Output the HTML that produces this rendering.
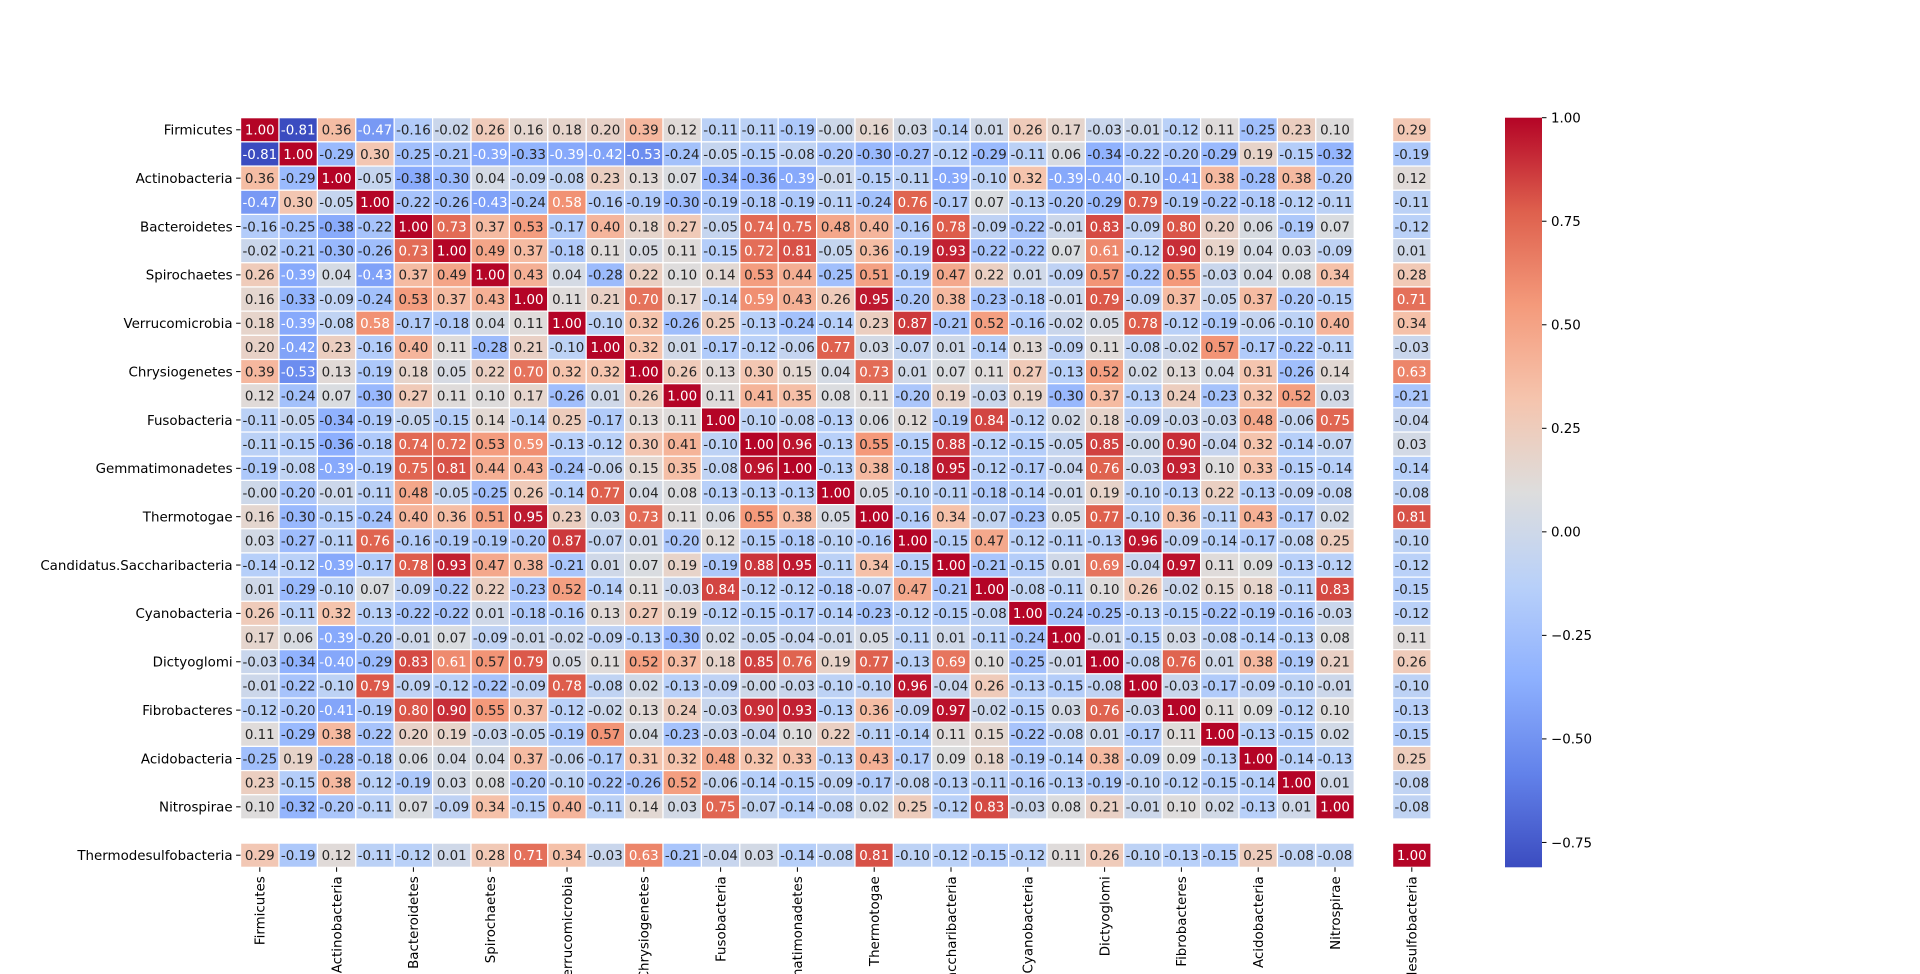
<!DOCTYPE html>
<html><head><meta charset="utf-8"><style>
html,body{margin:0;padding:0;background:#fff;width:1920px;height:974px;overflow:hidden;}
svg{display:block;}
svg text{font-family:"DejaVu Sans","Liberation Sans",sans-serif;}
</style></head><body>
<svg id="chart" width="1920" height="974" xmlns="http://www.w3.org/2000/svg"></svg>
<script>
const labels=["Firmicutes","","Actinobacteria","","Bacteroidetes","","Spirochaetes","","Verrucomicrobia","","Chrysiogenetes","","Fusobacteria","","Gemmatimonadetes","","Thermotogae","","Candidatus.Saccharibacteria","","Cyanobacteria","","Dictyoglomi","","Fibrobacteres","","Acidobacteria","","Nitrospirae","","Thermodesulfobacteria"];
const rows=[
[1.00,-0.81,0.36,-0.47,-0.16,-0.02,0.26,0.16,0.18,0.20,0.39,0.12,-0.11,-0.11,-0.19,-0.00,0.16,0.03,-0.14,0.01,0.26,0.17,-0.03,-0.01,-0.12,0.11,-0.25,0.23,0.10,null,0.29],
[-0.81,1.00,-0.29,0.30,-0.25,-0.21,-0.39,-0.33,-0.39,-0.42,-0.53,-0.24,-0.05,-0.15,-0.08,-0.20,-0.30,-0.27,-0.12,-0.29,-0.11,0.06,-0.34,-0.22,-0.20,-0.29,0.19,-0.15,-0.32,null,-0.19],
[0.36,-0.29,1.00,-0.05,-0.38,-0.30,0.04,-0.09,-0.08,0.23,0.13,0.07,-0.34,-0.36,-0.39,-0.01,-0.15,-0.11,-0.39,-0.10,0.32,-0.39,-0.40,-0.10,-0.41,0.38,-0.28,0.38,-0.20,null,0.12],
[-0.47,0.30,-0.05,1.00,-0.22,-0.26,-0.43,-0.24,0.58,-0.16,-0.19,-0.30,-0.19,-0.18,-0.19,-0.11,-0.24,0.76,-0.17,0.07,-0.13,-0.20,-0.29,0.79,-0.19,-0.22,-0.18,-0.12,-0.11,null,-0.11],
[-0.16,-0.25,-0.38,-0.22,1.00,0.73,0.37,0.53,-0.17,0.40,0.18,0.27,-0.05,0.74,0.75,0.48,0.40,-0.16,0.78,-0.09,-0.22,-0.01,0.83,-0.09,0.80,0.20,0.06,-0.19,0.07,null,-0.12],
[-0.02,-0.21,-0.30,-0.26,0.73,1.00,0.49,0.37,-0.18,0.11,0.05,0.11,-0.15,0.72,0.81,-0.05,0.36,-0.19,0.93,-0.22,-0.22,0.07,0.61,-0.12,0.90,0.19,0.04,0.03,-0.09,null,0.01],
[0.26,-0.39,0.04,-0.43,0.37,0.49,1.00,0.43,0.04,-0.28,0.22,0.10,0.14,0.53,0.44,-0.25,0.51,-0.19,0.47,0.22,0.01,-0.09,0.57,-0.22,0.55,-0.03,0.04,0.08,0.34,null,0.28],
[0.16,-0.33,-0.09,-0.24,0.53,0.37,0.43,1.00,0.11,0.21,0.70,0.17,-0.14,0.59,0.43,0.26,0.95,-0.20,0.38,-0.23,-0.18,-0.01,0.79,-0.09,0.37,-0.05,0.37,-0.20,-0.15,null,0.71],
[0.18,-0.39,-0.08,0.58,-0.17,-0.18,0.04,0.11,1.00,-0.10,0.32,-0.26,0.25,-0.13,-0.24,-0.14,0.23,0.87,-0.21,0.52,-0.16,-0.02,0.05,0.78,-0.12,-0.19,-0.06,-0.10,0.40,null,0.34],
[0.20,-0.42,0.23,-0.16,0.40,0.11,-0.28,0.21,-0.10,1.00,0.32,0.01,-0.17,-0.12,-0.06,0.77,0.03,-0.07,0.01,-0.14,0.13,-0.09,0.11,-0.08,-0.02,0.57,-0.17,-0.22,-0.11,null,-0.03],
[0.39,-0.53,0.13,-0.19,0.18,0.05,0.22,0.70,0.32,0.32,1.00,0.26,0.13,0.30,0.15,0.04,0.73,0.01,0.07,0.11,0.27,-0.13,0.52,0.02,0.13,0.04,0.31,-0.26,0.14,null,0.63],
[0.12,-0.24,0.07,-0.30,0.27,0.11,0.10,0.17,-0.26,0.01,0.26,1.00,0.11,0.41,0.35,0.08,0.11,-0.20,0.19,-0.03,0.19,-0.30,0.37,-0.13,0.24,-0.23,0.32,0.52,0.03,null,-0.21],
[-0.11,-0.05,-0.34,-0.19,-0.05,-0.15,0.14,-0.14,0.25,-0.17,0.13,0.11,1.00,-0.10,-0.08,-0.13,0.06,0.12,-0.19,0.84,-0.12,0.02,0.18,-0.09,-0.03,-0.03,0.48,-0.06,0.75,null,-0.04],
[-0.11,-0.15,-0.36,-0.18,0.74,0.72,0.53,0.59,-0.13,-0.12,0.30,0.41,-0.10,1.00,0.96,-0.13,0.55,-0.15,0.88,-0.12,-0.15,-0.05,0.85,-0.00,0.90,-0.04,0.32,-0.14,-0.07,null,0.03],
[-0.19,-0.08,-0.39,-0.19,0.75,0.81,0.44,0.43,-0.24,-0.06,0.15,0.35,-0.08,0.96,1.00,-0.13,0.38,-0.18,0.95,-0.12,-0.17,-0.04,0.76,-0.03,0.93,0.10,0.33,-0.15,-0.14,null,-0.14],
[-0.00,-0.20,-0.01,-0.11,0.48,-0.05,-0.25,0.26,-0.14,0.77,0.04,0.08,-0.13,-0.13,-0.13,1.00,0.05,-0.10,-0.11,-0.18,-0.14,-0.01,0.19,-0.10,-0.13,0.22,-0.13,-0.09,-0.08,null,-0.08],
[0.16,-0.30,-0.15,-0.24,0.40,0.36,0.51,0.95,0.23,0.03,0.73,0.11,0.06,0.55,0.38,0.05,1.00,-0.16,0.34,-0.07,-0.23,0.05,0.77,-0.10,0.36,-0.11,0.43,-0.17,0.02,null,0.81],
[0.03,-0.27,-0.11,0.76,-0.16,-0.19,-0.19,-0.20,0.87,-0.07,0.01,-0.20,0.12,-0.15,-0.18,-0.10,-0.16,1.00,-0.15,0.47,-0.12,-0.11,-0.13,0.96,-0.09,-0.14,-0.17,-0.08,0.25,null,-0.10],
[-0.14,-0.12,-0.39,-0.17,0.78,0.93,0.47,0.38,-0.21,0.01,0.07,0.19,-0.19,0.88,0.95,-0.11,0.34,-0.15,1.00,-0.21,-0.15,0.01,0.69,-0.04,0.97,0.11,0.09,-0.13,-0.12,null,-0.12],
[0.01,-0.29,-0.10,0.07,-0.09,-0.22,0.22,-0.23,0.52,-0.14,0.11,-0.03,0.84,-0.12,-0.12,-0.18,-0.07,0.47,-0.21,1.00,-0.08,-0.11,0.10,0.26,-0.02,0.15,0.18,-0.11,0.83,null,-0.15],
[0.26,-0.11,0.32,-0.13,-0.22,-0.22,0.01,-0.18,-0.16,0.13,0.27,0.19,-0.12,-0.15,-0.17,-0.14,-0.23,-0.12,-0.15,-0.08,1.00,-0.24,-0.25,-0.13,-0.15,-0.22,-0.19,-0.16,-0.03,null,-0.12],
[0.17,0.06,-0.39,-0.20,-0.01,0.07,-0.09,-0.01,-0.02,-0.09,-0.13,-0.30,0.02,-0.05,-0.04,-0.01,0.05,-0.11,0.01,-0.11,-0.24,1.00,-0.01,-0.15,0.03,-0.08,-0.14,-0.13,0.08,null,0.11],
[-0.03,-0.34,-0.40,-0.29,0.83,0.61,0.57,0.79,0.05,0.11,0.52,0.37,0.18,0.85,0.76,0.19,0.77,-0.13,0.69,0.10,-0.25,-0.01,1.00,-0.08,0.76,0.01,0.38,-0.19,0.21,null,0.26],
[-0.01,-0.22,-0.10,0.79,-0.09,-0.12,-0.22,-0.09,0.78,-0.08,0.02,-0.13,-0.09,-0.00,-0.03,-0.10,-0.10,0.96,-0.04,0.26,-0.13,-0.15,-0.08,1.00,-0.03,-0.17,-0.09,-0.10,-0.01,null,-0.10],
[-0.12,-0.20,-0.41,-0.19,0.80,0.90,0.55,0.37,-0.12,-0.02,0.13,0.24,-0.03,0.90,0.93,-0.13,0.36,-0.09,0.97,-0.02,-0.15,0.03,0.76,-0.03,1.00,0.11,0.09,-0.12,0.10,null,-0.13],
[0.11,-0.29,0.38,-0.22,0.20,0.19,-0.03,-0.05,-0.19,0.57,0.04,-0.23,-0.03,-0.04,0.10,0.22,-0.11,-0.14,0.11,0.15,-0.22,-0.08,0.01,-0.17,0.11,1.00,-0.13,-0.15,0.02,null,-0.15],
[-0.25,0.19,-0.28,-0.18,0.06,0.04,0.04,0.37,-0.06,-0.17,0.31,0.32,0.48,0.32,0.33,-0.13,0.43,-0.17,0.09,0.18,-0.19,-0.14,0.38,-0.09,0.09,-0.13,1.00,-0.14,-0.13,null,0.25],
[0.23,-0.15,0.38,-0.12,-0.19,0.03,0.08,-0.20,-0.10,-0.22,-0.26,0.52,-0.06,-0.14,-0.15,-0.09,-0.17,-0.08,-0.13,-0.11,-0.16,-0.13,-0.19,-0.10,-0.12,-0.15,-0.14,1.00,0.01,null,-0.08],
[0.10,-0.32,-0.20,-0.11,0.07,-0.09,0.34,-0.15,0.40,-0.11,0.14,0.03,0.75,-0.07,-0.14,-0.08,0.02,0.25,-0.12,0.83,-0.03,0.08,0.21,-0.01,0.10,0.02,-0.13,0.01,1.00,null,-0.08],
[null,null,null,null,null,null,null,null,null,null,null,null,null,null,null,null,null,null,null,null,null,null,null,null,null,null,null,null,null,null,null],
[0.29,-0.19,0.12,-0.11,-0.12,0.01,0.28,0.71,0.34,-0.03,0.63,-0.21,-0.04,0.03,-0.14,-0.08,0.81,-0.10,-0.12,-0.15,-0.12,0.11,0.26,-0.10,-0.13,-0.15,0.25,-0.08,-0.08,null,1.00]
];
const cbarTicks=[-0.75,-0.50,-0.25,0.00,0.25,0.50,0.75,1.00];
const vmin=-0.81, vmax=1.00;

const NS="http://www.w3.org/2000/svg";
const svg=document.getElementById('chart');
const L=240.6,T=117.7,R=1431,B=867.3;
const n=labels.length, cw=(R-L)/n, ch=(B-T)/n;
const xAt=i=>L+i*cw, yAt=i=>T+i*ch;
const stops=[[59,76,192],[98,130,234],[141,176,254],[184,208,249],[221,221,221],[245,196,173],[244,154,123],[222,96,77],[180,4,38]];
function cmap(t){t=Math.max(0,Math.min(1,t));const p=t*8,i=Math.min(7,Math.floor(p)),f=p-i;const a=stops[i],b=stops[i+1];return [0,1,2].map(k=>Math.round(a[k]+(b[k]-a[k])*f));}
const norm=v=>(v-vmin)/(vmax-vmin);
function fmt(v){const s=Math.abs(v).toFixed(2);return (v<0||Object.is(v,-0))?'-'+s:s;}
function mk(tag,attrs){const e=document.createElementNS(NS,tag);for(const k in attrs)e.setAttribute(k,attrs[k]);return e;}
function lum(c){const l=c.map(x=>{x/=255;return x<=0.03928?x/12.92:Math.pow((x+0.055)/1.055,2.4);});return 0.2126*l[0]+0.7152*l[1]+0.0722*l[2];}

const g=mk('g',{});


svg.appendChild(g);
for(let r=0;r<n;r++)for(let c=0;c<n;c++){
  const v=rows[r][c]; if(v===null) continue;
  const col=cmap(norm(v));
  const rc=mk('rect',{x:xAt(c),y:yAt(r),width:cw,height:ch,fill:`rgb(${col})`,stroke:'#fff','stroke-width':1.2});
  
  
  g.appendChild(rc);
  const t=mk('text',{x:xAt(c)+cw/2,y:yAt(r)+ch/2+4.8,'text-anchor':'middle','font-size':'13.4',fill:lum(col)>0.408?'#262626':'#fff'});
  t.textContent=fmt(v);
  
  
  g.appendChild(t);
}
labels.forEach((lb,i)=>{
  if(!lb) return;
  const yc=yAt(i)+ch/2;
  const tk=mk('line',{x1:L-4.5,x2:L,y1:yc,y2:yc,stroke:'#000','stroke-width':1});
  
  
  svg.appendChild(tk);
  const t=mk('text',{x:L-8,y:yc+4.8,'text-anchor':'end','font-size':'13.4',fill:'#000'});
  t.textContent=lb;
  
  
  svg.appendChild(t);
  const xc=xAt(i)+cw/2;
  const tk2=mk('line',{x1:xc,x2:xc,y1:B,y2:B+4.5,stroke:'#000','stroke-width':1});
  
  
  svg.appendChild(tk2);
  const t2=mk('text',{x:0,y:0,'text-anchor':'end','font-size':'13.4',fill:'#000',transform:`translate(${xc+4.8},${B+9}) rotate(-90)`});
  t2.textContent=lb;
  
  
  svg.appendChild(t2);
});
const CX=1505,CW=37;
const defs=mk('defs',{});svg.appendChild(defs);
const grad=mk('linearGradient',{id:'cb',x1:0,y1:1,x2:0,y2:0});
for(let i=0;i<=16;i++){const c=cmap(i/16);grad.appendChild(mk('stop',{offset:i/16,'stop-color':`rgb(${c})`}));}
defs.appendChild(grad);
const cb=mk('rect',{x:CX,y:T,width:CW,height:B-T,fill:'url(#cb)'});


svg.appendChild(cb);
const cy=v=>B-norm(v)*(B-T);
cbarTicks.forEach(v=>{
  const y=cy(v);
  const tk=mk('line',{x1:CX+CW,x2:CX+CW+4.5,y1:y,y2:y,stroke:'#000','stroke-width':1});
  
  
  svg.appendChild(tk);
  const t=mk('text',{x:CX+CW+9,y:y+4.8,'font-size':'13.4',fill:'#000'});
  t.textContent=v.toFixed(2).replace('-','\u2212');
  
  
  svg.appendChild(t);
});
</script>
</body></html>
